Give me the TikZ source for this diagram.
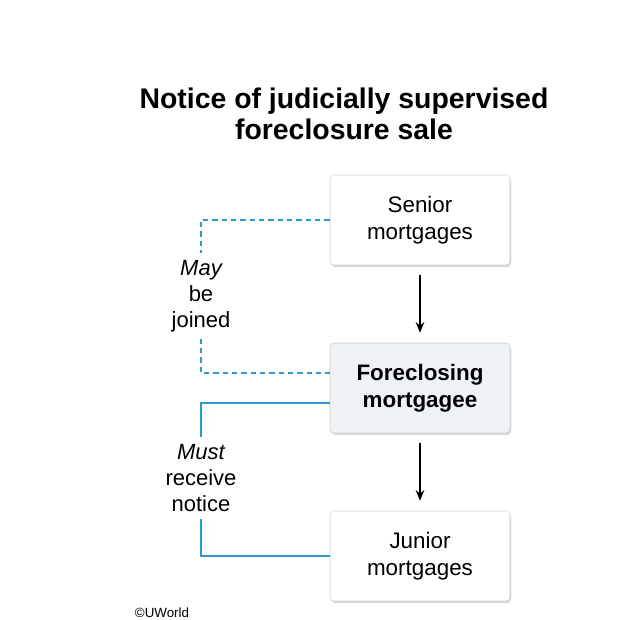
\documentclass[tikz,border=0pt]{standalone}
\usepackage{fontspec}
\setmainfont{Liberation Sans}
\usetikzlibrary{arrows.meta, positioning, shadows}

\definecolor{linkblue}{RGB}{45,155,210}
\definecolor{boxfill}{RGB}{238,242,246}
\definecolor{boxline}{RGB}{205,205,205}

\begin{document}
\begin{tikzpicture}[x=0.75pt, y=-0.75pt,
    party/.style={draw=boxline, fill=white, rounded corners=3pt, minimum width=135pt, minimum height=67.5pt,
        align=center, font=\fontsize{16.8}{20.3}\selectfont,
        drop shadow={shadow xshift=1pt, shadow yshift=-1.5pt, opacity=0.3}},
    side/.style={align=center, inner sep=5pt, font=\fontsize{16.5}{19.5}\selectfont},
    link/.style={linkblue, line width=1pt},
    flow/.style={-{Stealth[length=8pt, width=6.5pt]}, line width=1.1pt, shorten <=7pt, shorten >=7.5pt}]
    \useasboundingbox (0,0) rectangle (638,619);

    % Title
    \node[align=center, font=\fontsize{21.3}{23.5}\selectfont\bfseries] (title) at (344,114)
        {Notice of judicially supervised\\foreclosure sale};

    % Boxes
    \node[party] (senior) at (420,220) {Senior\\mortgages};
    \node[party, fill=boxfill, font=\fontsize{16.8}{20.3}\selectfont\bfseries] (forecl) at (420,388) {Foreclosing\\mortgagee};
    \node[party] (junior) at (420,556) {Junior\\mortgages};

    % Arrows
    \draw[flow] (senior) -- (forecl);
    \draw[flow] (forecl) -- (junior);

    % Side notes
    \node[side] (may) at (201,296) {\itshape May\\be\\joined};
    \node[side] (must) at (201,478) {\itshape Must\\receive\\notice};

    \draw[link, dash pattern=on 4pt off 3pt] (senior.west) -| (may.north);
    \draw[link, dash pattern=on 4pt off 3pt] (may.south) |- ([yshift=11.25pt]forecl.west);
    \draw[link] ([yshift=-11.25pt]forecl.west) -| (must.north);
    \draw[link] (must.south) |- (junior.west);

    % Credit
    \node[font=\fontsize{10}{12}\selectfont] (credit) at (162,613) {©UWorld};
\end{tikzpicture}
\end{document}
